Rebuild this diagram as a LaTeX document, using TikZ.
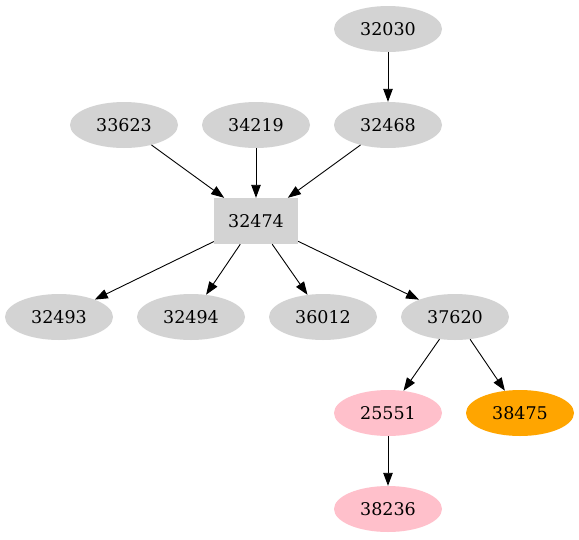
\documentclass[tikz,border=0pt]{standalone}
\usepackage{fontspec}
\setmainfont{DejaVu Serif}
\usetikzlibrary{shapes.geometric,arrows.meta}
\definecolor{lgray}{RGB}{211,211,211}
\definecolor{gvpink}{RGB}{255,192,203}
\definecolor{gvorange}{RGB}{255,165,0}
\begin{document}
\begin{tikzpicture}[x=1pt,y=-1pt,
  ell/.style={ellipse,fill=lgray,minimum width=108pt,minimum height=46pt,inner sep=0pt,font=\fontsize{17.5}{20}\selectfont},
  boxn/.style={rectangle,fill=lgray,minimum width=84pt,minimum height=46pt,inner sep=0pt,font=\fontsize{17.5}{20}\selectfont},
  edge/.style={-{Triangle[length=13pt,width=9.5pt]},line width=0.9pt}]
\useasboundingbox (0,0) rectangle (579,539);
\node[ell] (n32030) at (388,29) {32030};
\node[ell] (n32468) at (388,125) {32468};
\node[ell] (n33623) at (124,125) {33623};
\node[ell] (n34219) at (256,125) {34219};
\node[boxn] (n32474) at (256,221) {32474};
\node[ell] (n32493) at (59,317) {32493};
\node[ell] (n32494) at (191,317) {32494};
\node[ell] (n36012) at (323,317) {36012};
\node[ell] (n37620) at (455,317) {37620};
\node[ell,fill=gvpink] (n25551) at (388,413) {25551};
\node[ell,fill=gvorange] (n38475) at (520,413) {38475};
\node[ell,fill=gvpink] (n38236) at (388,509) {38236};
\draw[edge] (n32030) -- (n32468);
\draw[edge] (n33623) -- (n32474);
\draw[edge] (n34219) -- (n32474);
\draw[edge] (n32468) -- (n32474);
\draw[edge] (n32474) -- (n32493);
\draw[edge] (n32474) -- (n32494);
\draw[edge] (n32474) -- (n36012);
\draw[edge] (n32474) -- (n37620);
\draw[edge] (n37620) -- (n25551);
\draw[edge] (n37620) -- (n38475);
\draw[edge] (n25551) -- (n38236);
\end{tikzpicture}
\end{document}
